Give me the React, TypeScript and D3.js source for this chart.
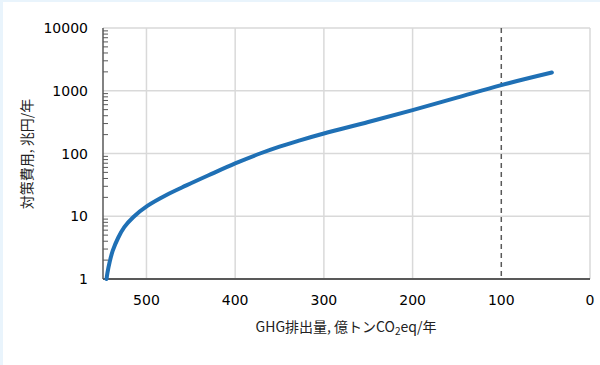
import React from "react";
import * as d3 from "d3";

const emissions = [545, 544, 541.5, 538, 532, 525, 515, 499, 477.5, 455, 430, 400, 372, 350, 327, 300, 250, 200, 150, 100, 43];
const costs = [1, 1.25, 1.87, 2.83, 4.5, 6.69, 9.66, 14.6, 21.8, 31, 45, 69.6, 100, 129, 162, 208, 318, 490, 776, 1230, 1950];
const xTicks = [500, 400, 300, 200, 100, 0];
const yTicks = [1, 10, 100, 1000, 10000];
const refLine = 100;

const W = 600, H = 365;
const left = 103, right = 590, top = 28, bottom = 279;

export default function App() {
  const x = d3.scaleLinear().domain([549, 0]).range([left, right]);
  const y = d3.scaleLog().domain([1, 10000]).range([bottom, top]);
  const data = emissions.map((e, i) => ({ e, c: costs[i] }));
  const line = d3.line<{ e: number; c: number }>()
    .x(d => x(d.e)).y(d => y(d.c)).curve(d3.curveCatmullRom.alpha(0.5));
  const minor: number[] = [];
  for (let p = 0; p < 4; p++) for (let k = 2; k <= 9; k++) minor.push(k * Math.pow(10, p));
  const font = "'DejaVu Sans', sans-serif";
  const cjk = "'Noto Sans CJK JP', sans-serif";
  return (
    <svg width={W} height={H} style={{ position: "absolute", left: 0, top: 0 }}>
      <rect x={0} y={0} width={W} height={H} fill="#e9f4fc" />
      <rect x={3} y={2} width={W - 3} height={H - 2} fill="#ffffff" />
      {yTicks.map(t => (
        <line key={"gy" + t} x1={left} x2={right} y1={y(t)} y2={y(t)} stroke="#d9d9d9" strokeWidth={1.5} />
      ))}
      {xTicks.filter(t => t !== refLine).map(t => (
        <line key={"gx" + t} x1={x(t)} x2={x(t)} y1={top} y2={bottom} stroke="#d9d9d9" strokeWidth={1.5} />
      ))}
      <line x1={x(refLine)} x2={x(refLine)} y1={top} y2={bottom} stroke="#595959" strokeWidth={1.5} strokeDasharray="5,4" />
      {minor.map(t => (
        <line key={"m" + t} x1={left} x2={left + 5} y1={y(t)} y2={y(t)} stroke="#595959" strokeWidth={1} />
      ))}
      <line x1={left} x2={left} y1={top} y2={bottom} stroke="#595959" strokeWidth={1.5} />
      <line x1={left} x2={right} y1={bottom} y2={bottom} stroke="#595959" strokeWidth={2} />
      <path d={line(data) || ""} fill="none" stroke="#1f70b5" strokeWidth={4} strokeLinecap="round" />
      {yTicks.map(t => (
        <text key={"ty" + t} x={88} y={y(t) + 5} textAnchor="end" fontFamily={font} fontSize={14} fill="#000">{t}</text>
      ))}
      {xTicks.map(t => (
        <text key={"tx" + t} x={x(t)} y={305} textAnchor="middle" fontFamily={font} fontSize={14} fill="#000">{t}</text>
      ))}
      <text x={346} y={332} textAnchor="middle" fontFamily={cjk} fontSize={14} fill="#222">
        GHG排出量, 億トンCO<tspan fontSize={10} dy={3}>2</tspan><tspan dy={-3}>eq/年</tspan>
      </text>
      <text transform={`translate(32,154) rotate(-90)`} textAnchor="middle" fontFamily={cjk} fontSize={14} fill="#222">対策費用, 兆円/年</text>
    </svg>
  );
}
